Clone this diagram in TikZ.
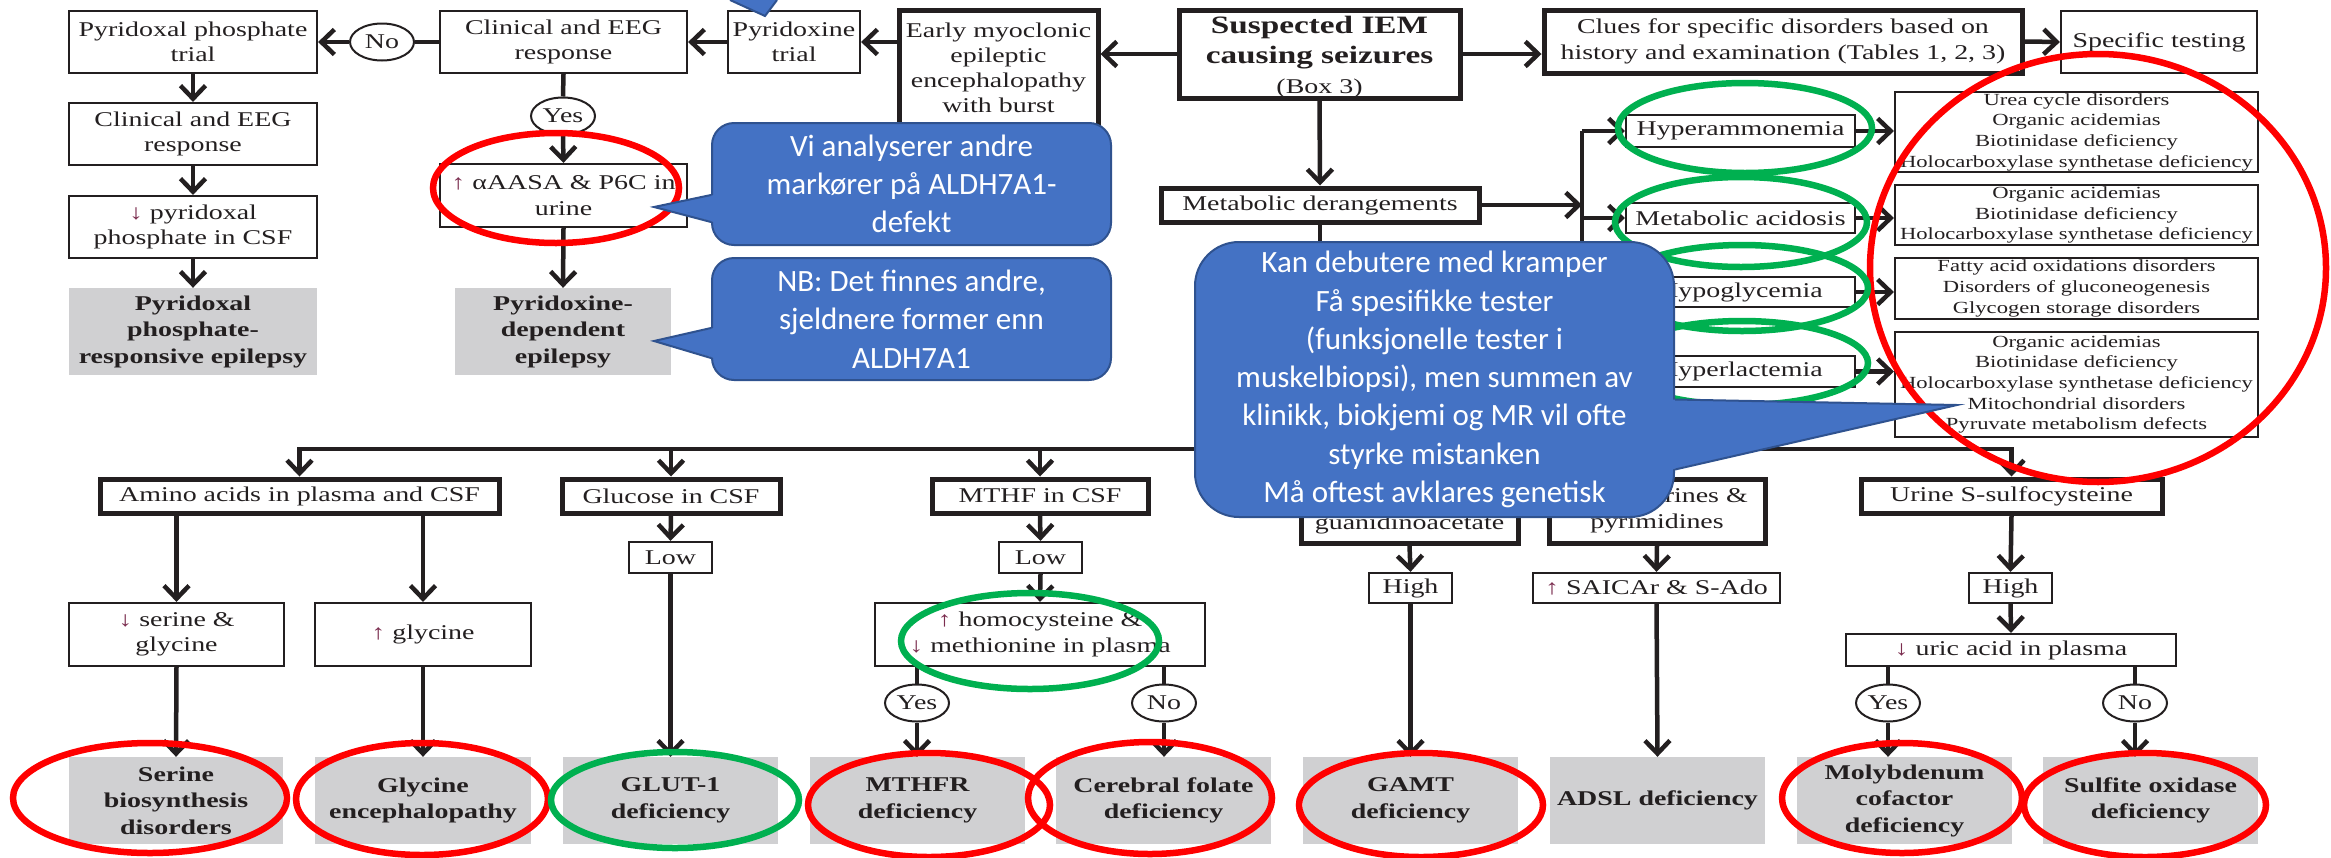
\documentclass[tikz,border=0pt]{standalone}
\usepackage{fontspec}
\setmainfont{Liberation Serif}[FakeStretch=1.33]
\newfontfamily\calfont{Carlito}
\usetikzlibrary{arrows.meta,shapes.geometric}

\definecolor{ink}{HTML}{231F20}
\definecolor{grayfill}{HTML}{D0D0D2}
\definecolor{callblue}{HTML}{4472C4}
\definecolor{callline}{HTML}{2F528F}
\definecolor{ringred}{HTML}{FF0000}
\definecolor{ringgreen}{HTML}{00B050}
\definecolor{updown}{HTML}{7B2D4F}

\newcommand{\fsz}[2]{\fontsize{#1}{#2}\selectfont}
\newcommand{\upar}{{\color{updown}↑}}
\newcommand{\dnar}{{\color{updown}↓}}

\tikzset{
  % a node spanning the rectangle (x1,y1)--(x2,y2)
  cornerbox/.style n args={4}{at={({(#1+#3)/2},{(#2+#4)/2})},
    minimum width={(#3-#1)*1pt}, minimum height={(#4-#2)*1pt}},
  box/.style={draw=ink, line width=2.2pt, inner sep=0pt, align=center, text=ink, font=\fsz{21}{25.5}},
  heavybox/.style={box, line width=5pt},
  smallbox/.style={box, font=\fsz{17}{20.7}},
  result/.style={fill=grayfill, inner sep=0pt, align=center, text=ink, font=\fsz{21}{26.5}\bfseries},
  plaintext/.style={inner sep=0pt, align=center, text=ink, font=\fsz{21}{25}},
  answer/.style={draw=ink, ellipse, line width=2pt, inner sep=0pt, minimum width=64pt, minimum height=37pt, text=ink, font=\fsz{21}{25}},
  link/.style={draw=ink, line width=4.5pt},
  arr/.style={link, -{Straight Barb[length=13pt,width=25pt]}},
  ring/.style={draw=ringred, line width=6.5pt},
  gring/.style={draw=ringgreen, line width=6.5pt},
  bubble/.style={fill=callblue, draw=callline, line width=2pt, text=white, align=center, inner sep=0pt, font=\calfont\fsz{31}{38.3}},
  bubbleedge/.style={draw=callline, line width=2pt, line join=miter},
}

\begin{document}
\begin{tikzpicture}[x=1pt,y=-1pt]
\useasboundingbox (0,0) rectangle (2331,857);

% ---------- pyridoxine branch ----------
\node[box, cornerbox={69}{11}{317}{73}] (pptrial) {Pyridoxal phosphate\\trial};
\node[answer] (no1) at (382,42) {No};
\node[box, cornerbox={440}{11}{687}{73}] (resp1) {Clinical and EEG\\response};
\node[box, cornerbox={728}{11}{860}{73}] (b6trial) {Pyridoxine\\trial};
\node[heavybox, cornerbox={899}{10}{1098}{150}] (emee) {};
\node[plaintext] (emeetext) at (998.5,68) {Early myoclonic\\epileptic\\encephalopathy\\with burst};
\node[heavybox, cornerbox={1179}{10}{1460}{98}] (iem) {};
\node[plaintext, font=\fsz{25}{30}\bfseries] (iemtext) at (1319.5,57)
  {Suspected IEM\\causing seizures\\\fsz{21}{25}\mdseries(Box 3)};
\node[answer] (yes1) at (563,116) {Yes};
\node[box, cornerbox={440}{164}{687}{227}] (aasa) {\upar{} αAASA \& P6C in\\urine};
\node[result, cornerbox={455}{288}{671}{375}] (pde) {Pyridoxine-\\dependent\\epilepsy};
\node[box, cornerbox={69}{103}{317}{165}] (resp2) {Clinical and EEG\\response};
\node[box, cornerbox={69}{196}{317}{258}] (plp) {\dnar{} pyridoxal\\phosphate in CSF};
\node[result, cornerbox={69}{288}{317}{375}] (ppre) {Pyridoxal\\phosphate-\\responsive epilepsy};

\draw[arr] (iem.west) -- (emee.east |- iem.west);
\draw[arr] (emee.west |- b6trial.east) -- (b6trial.east);
\draw[arr] (b6trial.west) -- (resp1.east);
\draw[link] (resp1.west) -- (no1.east);
\draw[arr] (no1.west) -- (pptrial.east);
\draw[link] (resp1.south) -- (yes1.north);
\draw[arr] (yes1.south) -- (aasa.north);
\draw[arr] (aasa.south) -- (pde.north);
\draw[arr] (pptrial.south) -- (resp2.north);
\draw[arr] (resp2.south) -- (plp.north);
\draw[arr] (plp.south) -- (ppre.north);

% ---------- clues and metabolic derangements ----------
\node[heavybox, cornerbox={1544}{10}{2022}{73}] (clues) {Clues for specific disorders based on\\history and examination (Tables 1, 2, 3)};
\node[box, cornerbox={2061}{11}{2257}{73}] (spec) {Specific testing};
\node[heavybox, cornerbox={1161}{188}{1479}{222}] (metab) {Metabolic derangements};

\node[box, cornerbox={1626}{115}{1855}{147}] (hyperam) {Hyperammonemia};
\node[box, cornerbox={1626}{203}{1855}{233}] (macid) {Metabolic acidosis};
\node[box, cornerbox={1626}{277}{1855}{307}] (hypogl) {Hypoglycemia};
\node[box, cornerbox={1626}{356}{1855}{387}] (hyperlac) {Hyperlactemia};

\node[smallbox, cornerbox={1895}{92}{2258}{172}] (r1) {Urea cycle disorders\\Organic acidemias\\Biotinidase deficiency\\Holocarboxylase synthetase deficiency};
\node[smallbox, cornerbox={1895}{185}{2258}{245}] (r2) {Organic acidemias\\Biotinidase deficiency\\Holocarboxylase synthetase deficiency};
\node[smallbox, cornerbox={1895}{258}{2258}{319}] (r3) {Fatty acid oxidations disorders\\Disorders of gluconeogenesis\\Glycogen storage disorders};
\node[smallbox, cornerbox={1895}{332}{2258}{437}] (r4) {Organic acidemias\\Biotinidase deficiency\\Holocarboxylase synthetase deficiency\\Mitochondrial disorders\\Pyruvate metabolism defects};

\coordinate (trunk) at (1582,131);
\draw[arr] (iem.east) -- (clues.west |- iem.east);
\draw[arr] (clues.east) -- (spec.west);
\draw[arr] (iem.south) -- (metab.north);
\draw[arr] (metab.east) -- (metab.east -| trunk);
\draw[link] (trunk) -- (trunk |- hyperlac.west);
\draw[arr] (trunk) -- (hyperam.west);
\draw[arr] (trunk |- macid.west) -- (macid.west);
\draw[arr] (trunk |- hypogl.west) -- (hypogl.west);
\draw[arr] (trunk |- hyperlac.west) -- (hyperlac.west);
\draw[arr] (hyperam.east) -- (hyperam.east -| r1.west);
\draw[arr] (macid.east) -- (macid.east -| r2.west);
\draw[arr] (hypogl.east) -- (hypogl.east -| r3.west);
\draw[arr] (hyperlac.east) -- (hyperlac.east -| r4.west);

% ---------- laboratory work-up ----------
\node[heavybox, cornerbox={100}{479}{499}{513}] (amino) {Amino acids in plasma and CSF};
\node[heavybox, cornerbox={562}{479}{780}{513}] (gluc) {Glucose in CSF};
\node[heavybox, cornerbox={932}{479}{1148}{513}] (mthf) {MTHF in CSF};
\node[heavybox, cornerbox={1301}{479}{1518}{543}] (creat) {};
\node[plaintext] (creattext) at (1409.5,524) {guanidinoacetate};
\node[heavybox, cornerbox={1549}{479}{1765}{543}] (purin) {Urine purines \&\\pyrimidines};
\node[heavybox, cornerbox={1861}{479}{2162}{513}] (urine) {Urine S-sulfocysteine};

\node[box, cornerbox={629}{542}{712}{573}] (low1) {Low};
\node[box, cornerbox={999}{542}{1082}{573}] (low2) {Low};
\node[box, cornerbox={1369}{573}{1452}{603}] (high1) {High};
\node[box, cornerbox={1533}{573}{1780}{603}] (saicar) {\upar{} SAICAr \& S-Ado};
\node[box, cornerbox={1969}{573}{2052}{603}] (high2) {High};

\node[box, cornerbox={69}{603}{284}{666}] (ser) {\dnar{} serine \&\\glycine};
\node[box, cornerbox={315}{603}{531}{666}] (gly) {\upar{} glycine};
\node[box, cornerbox={875}{603}{1205}{666}] (hcy) {\upar{} homocysteine \&\\\dnar{} methionine in plasma};
\node[box, cornerbox={1846}{634}{2176}{666}] (uric) {\dnar{} uric acid in plasma};

\node[answer] (yes2) at (917,703) {Yes};
\node[answer] (no2) at (1164,703) {No};
\node[answer] (yes3) at (1888,703) {Yes};
\node[answer] (no3) at (2135,703) {No};

\node[result, cornerbox={69}{757}{283}{844}] (serD) {Serine\\biosynthesis\\disorders};
\node[result, cornerbox={315}{757}{531}{844}] (glyD) {Glycine\\encephalopathy};
\node[result, cornerbox={563}{757}{778}{844}] (glutD) {GLUT-1\\deficiency};
\node[result, cornerbox={810}{757}{1025}{844}] (mthfrD) {MTHFR\\deficiency};
\node[result, cornerbox={1056}{757}{1271}{844}] (cfdD) {Cerebral folate\\deficiency};
\node[result, cornerbox={1303}{757}{1518}{844}] (gamtD) {GAMT\\deficiency};
\node[result, cornerbox={1550}{757}{1765}{844}] (adslD) {ADSL deficiency};
\node[result, cornerbox={1797}{757}{2012}{844}] (mocoD) {Molybdenum\\cofactor\\deficiency};
\node[result, cornerbox={2043}{757}{2258}{844}] (soD) {Sulfite oxidase\\deficiency};

\coordinate (bus) at (1320,449);
\draw[link] (metab.south) -- (bus);
\draw[arr] (bus) -| (amino.north);
\draw[arr] (bus) -| (gluc.north);
\draw[arr] (bus) -| (mthf.north);
\draw[arr] (bus) -| (creat.north);
\draw[arr] (bus) -| (purin.north);
\draw[arr] (bus) -| (urine.north);

\draw[arr] (ser.north |- amino.south) -- (ser.north);
\draw[arr] (gly.north |- amino.south) -- (gly.north);
\draw[arr] (ser.south) -- (serD.north);
\draw[arr] (gly.south) -- (glyD.north);
\draw[arr] (gluc.south) -- (low1.north);
\draw[arr] (low1.south) -- (glutD.north);
\draw[arr] (mthf.south) -- (low2.north);
\draw[arr] (low2.south) -- (hcy.north);
\draw[link] (hcy.south -| yes2.north) -- (yes2.north);
\draw[arr] (yes2.south) -- (yes2.south |- mthfrD.north);
\draw[link] (hcy.south -| no2.north) -- (no2.north);
\draw[arr] (no2.south) -- (no2.south |- cfdD.north);
\draw[arr] (creat.south) -- (high1.north);
\draw[arr] (high1.south) -- (gamtD.north);
\draw[arr] (purin.south) -- (saicar.north);
\draw[arr] (saicar.south) -- (adslD.north);
\draw[arr] (urine.south) -- (high2.north);
\draw[arr] (high2.south) -- (uric.north);
\draw[link] (uric.south -| yes3.north) -- (yes3.north);
\draw[arr] (yes3.south) -- (yes3.south |- mocoD.north);
\draw[link] (uric.south -| no3.north) -- (no3.north);
\draw[arr] (no3.south) -- (no3.south |- soD.north);

% ---------- highlight rings ----------
\draw[ring] (556,188) ellipse [x radius=123, y radius=55];
\draw[ring] (2098,268) ellipse [x radius=228, y radius=214];
\draw[gring] (1745,128) ellipse [x radius=127, y radius=45];
\draw[gring] (1741,222) ellipse [x radius=126, y radius=45];
\draw[gring] (1742,288) ellipse [x radius=126, y radius=43];
\draw[gring] (1742,363) ellipse [x radius=126, y radius=42];
\draw[gring] (1030,641) ellipse [x radius=129, y radius=48];
\draw[ring] (150,798) ellipse [x radius=137, y radius=55];
\draw[ring] (422,799) ellipse [x radius=126, y radius=56];
\draw[gring] (675,800) ellipse [x radius=124, y radius=48];
\draw[ring] (929,805) ellipse [x radius=121, y radius=52];
\draw[ring] (1150,798) ellipse [x radius=122, y radius=56];
\draw[ring] (1421,805) ellipse [x radius=122, y radius=52];
\draw[ring] (1902,798) ellipse [x radius=120, y radius=55];
\draw[ring] (2145,805) ellipse [x radius=121, y radius=52];

% ---------- comment bubbles ----------
\coordinate (toptip) at (765,16);
\fill[callblue] (730,0) -- (toptip) -- (777,0) -- cycle;
\draw[bubbleedge] (730,0) -- (toptip) -- (777,0);

\node[bubble, rounded corners=22pt, cornerbox={712}{123}{1111}{245}] (vi)
  {Vi analyserer andre\\markører på ALDH7A1-\\defekt};
\coordinate (vitip) at (654,207);
\fill[callblue] ([xshift=3pt,yshift=-11pt]vi.west) -- (vitip) -- ([xshift=3pt,yshift=-38pt]vi.west) -- cycle;
\draw[bubbleedge] ([yshift=-11pt]vi.west) -- (vitip) -- ([yshift=-38pt]vi.west);

\node[bubble, rounded corners=22pt, cornerbox={712}{258}{1111}{380}] (nb)
  {NB: Det finnes andre,\\sjeldnere former enn\\ALDH7A1};
\coordinate (nbtip) at (654,341);
\fill[callblue] ([xshift=3pt,yshift=-9pt]nb.west) -- (nbtip) -- ([xshift=3pt,yshift=-39pt]nb.west) -- cycle;
\draw[bubbleedge] ([yshift=-9pt]nb.west) -- (nbtip) -- ([yshift=-39pt]nb.west);

\node[bubble, rounded corners=44pt, cornerbox={1195}{242}{1674}{517}] (kan)
  {Kan debutere med kramper\\Få spesifikke tester\\(funksjonelle tester i\\muskelbiopsi), men summen av\\klinikk, biokjemi og MR vil ofte\\styrke mistanken\\Må oftest avklares genetisk};
\coordinate (kantip) at (1957,405);
\fill[callblue] ([xshift=-3pt,yshift=-20pt]kan.east) -- (kantip) -- ([xshift=-3pt,yshift=-90pt]kan.east) -- cycle;
\draw[bubbleedge] ([yshift=-20pt]kan.east) -- (kantip) -- ([yshift=-90pt]kan.east);

\end{tikzpicture}
\end{document}
